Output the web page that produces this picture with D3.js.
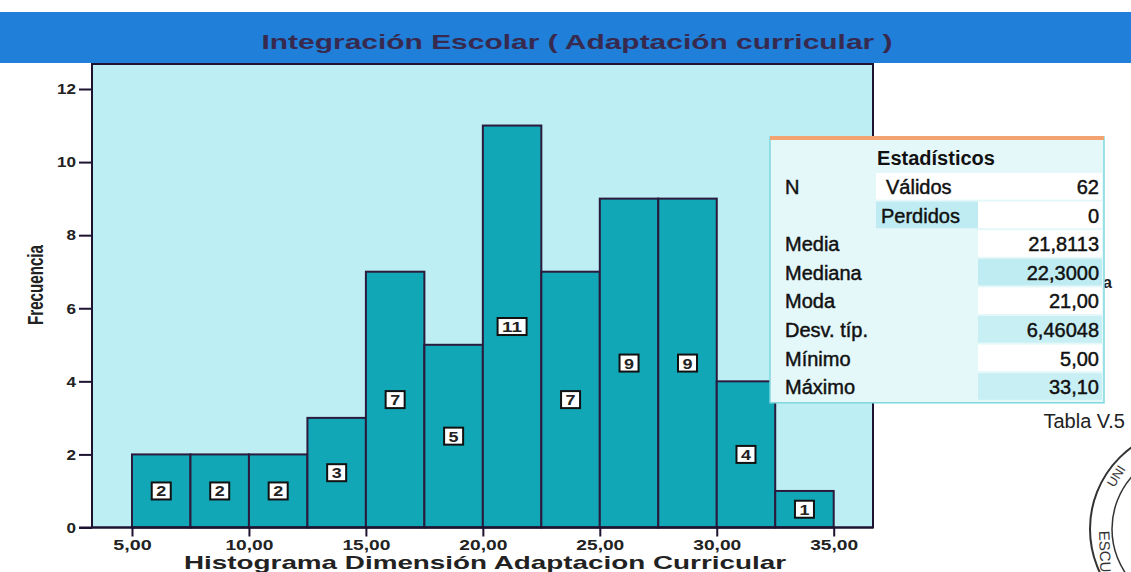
<!DOCTYPE html>
<html lang="es">
<head>
<meta charset="UTF-8">
<title>Integración Escolar</title>
<script src="https://cdn.jsdelivr.net/npm/d3@7/dist/d3.min.js"></script>
<style>
  body { margin: 0; background: #fff; }
  text { font-family: "Liberation Sans", Arial, sans-serif; }
</style>
</head>
<body>
<svg width="1131" height="572"></svg>
<script>
// histogram bins (lower edge) and counts
const binStart = [5, 7.5, 10, 12.5, 15, 17.5, 20, 22.5, 25, 27.5, 30, 32.5];
const binWidth = 2.5;
const counts = [2, 2, 2, 3, 7, 5, 11, 7, 9, 9, 4, 1];
const xTicks = [5, 10, 15, 20, 25, 30, 35];
const yTicks = [0, 2, 4, 6, 8, 10, 12];

// statistics table
const statLabels = ["N", "", "Media", "Mediana", "Moda", "Desv. típ.", "Mínimo", "Máximo"];
const statSub = ["Válidos", "Perdidos", "", "", "", "", "", ""];
const statValues = ["62", "0", "21,8113", "22,3000", "21,00", "6,46048", "5,00", "33,10"];

const svg = d3.select("svg");

// title band
svg.append("rect").attr("x", 0).attr("y", 12).attr("width", 1131).attr("height", 51)
  .attr("fill", "#1f7fd9");
svg.append("text").attr("x", 577).attr("y", 49).attr("text-anchor", "middle")
  .attr("font-size", 21).attr("font-weight", "bold").attr("fill", "#382a4e")
  .attr("textLength", 631).attr("lengthAdjust", "spacingAndGlyphs")
  .text("Integración Escolar ( Adaptación curricular )");

// scales
const x = d3.scaleLinear().domain([3.29, 36.68]).range([92, 873]);
const y = d3.scaleLinear().domain([0, 12]).range([527.5, 89]);
const plotTop = 64;

// plot background
svg.append("rect").attr("x", x.range()[0]).attr("y", plotTop)
  .attr("width", x.range()[1] - x.range()[0]).attr("height", y(0) - plotTop)
  .attr("fill", "#bdeef4");

// bars
svg.append("g").selectAll("rect").data(counts).enter().append("rect")
  .attr("x", (d, i) => x(binStart[i]))
  .attr("y", d => y(d))
  .attr("width", (d, i) => x(binStart[i] + binWidth) - x(binStart[i]))
  .attr("height", d => y(0) - y(d))
  .attr("fill", "#12a7b6")
  .attr("stroke", "#2b1a3c").attr("stroke-width", 2);

// count labels
const lab = svg.append("g").selectAll("g").data(counts).enter().append("g")
  .attr("transform", (d, i) => `translate(${x(binStart[i] + binWidth / 2)},${y(d / 2)})`);
lab.append("rect")
  .attr("x", d => -(9 + 10 * String(d).length) / 2).attr("y", -8.5)
  .attr("width", d => 9 + 10 * String(d).length).attr("height", 17)
  .attr("fill", "#fff").attr("stroke", "#111").attr("stroke-width", 2);
lab.append("text").attr("y", 5.5).attr("text-anchor", "middle")
  .attr("font-size", 15).attr("font-weight", "bold").attr("fill", "#222")
  .attr("textLength", d => String(d).length * 10).attr("lengthAdjust", "spacingAndGlyphs")
  .text(d => d);

// frame
svg.append("rect").attr("x", x.range()[0]).attr("y", plotTop)
  .attr("width", x.range()[1] - x.range()[0]).attr("height", y(0) - plotTop)
  .attr("fill", "none").attr("stroke", "#1d1330").attr("stroke-width", 2);

// axes
const yAxis = svg.append("g").attr("transform", `translate(${x.range()[0]},0)`)
  .call(d3.axisLeft(y).tickValues(yTicks).tickSize(13).tickPadding(3).tickFormat(d3.format("d")));
yAxis.select(".domain").remove();
yAxis.selectAll("line").attr("stroke", "#1d1330").attr("stroke-width", 2);
yAxis.selectAll("text").attr("font-size", 15).attr("font-weight", "bold").attr("fill", "#222")
  .attr("textLength", d => String(d).length * 9.5).attr("lengthAdjust", "spacingAndGlyphs");

const fmt = d => d.toFixed(2).replace(".", ",");
const xAxis = svg.append("g").attr("transform", `translate(0,${y(0)})`)
  .call(d3.axisBottom(x).tickValues(xTicks).tickSize(9).tickPadding(4).tickFormat(fmt));
xAxis.select(".domain").attr("stroke", "#1d1330").attr("stroke-width", 2)
  .attr("d", `M${x.range()[0] - 13},0H${x.range()[1]}`);
xAxis.selectAll("line").attr("stroke", "#1d1330").attr("stroke-width", 2);
xAxis.selectAll("text").attr("font-size", 14).attr("font-weight", "bold").attr("fill", "#222")
  .attr("textLength", d => fmt(d).length * 9.6).attr("lengthAdjust", "spacingAndGlyphs");

// axis titles
svg.append("text").attr("x", 485).attr("y", 569).attr("text-anchor", "middle")
  .attr("font-size", 19).attr("font-weight", "bold").attr("fill", "#222")
  .attr("textLength", 602).attr("lengthAdjust", "spacingAndGlyphs")
  .text("Histograma Dimensión Adaptacion Curricular");
svg.append("text")
  .attr("transform", "translate(43,285) rotate(-90)").attr("text-anchor", "middle")
  .attr("font-size", 22).attr("font-weight", "bold").attr("fill", "#222")
  .attr("textLength", 80).attr("lengthAdjust", "spacingAndGlyphs")
  .text("Frecuencia");

// stray letter behind the table
svg.append("text").attr("x", 1103).attr("y", 288).attr("font-size", 16).attr("font-weight", "bold")
  .attr("fill", "#222").text("a");

// statistics table
const tX = 770, tW = 334, tY = 137, rowH = 28.6, headH = 36;
const c2 = 876, c3 = 978;
const tb = svg.append("g");
tb.append("rect").attr("x", tX).attr("y", tY).attr("width", tW).attr("height", headH + rowH * 8 + 1)
  .attr("fill", "#e4f7f9").attr("stroke", "#7fd8e0").attr("stroke-width", 1.5);
tb.append("rect").attr("x", tX).attr("y", tY - 1).attr("width", tW).attr("height", 4).attr("fill", "#f3a36f");
tb.append("text").attr("x", 936).attr("y", tY + 28).attr("text-anchor", "middle")
  .attr("font-size", 20).attr("font-weight", "bold").attr("fill", "#111").text("Estadísticos");

const rows = tb.selectAll("g.row").data(statValues).enter().append("g")
  .attr("transform", (d, i) => `translate(0,${tY + headH + i * rowH})`);
// cell shading
const subFill = ["#ffffff", "#bfecf2", "#e4f7f9", "#e4f7f9", "#e4f7f9", "#e4f7f9", "#e4f7f9", "#e4f7f9"];
const valFill = ["#ffffff", "#ffffff", "#ffffff", "#bfecf2", "#ffffff", "#c8eff4", "#ffffff", "#c8eff4"];
rows.append("rect").attr("x", c2).attr("y", 0).attr("width", c3 - c2).attr("height", rowH - 2)
  .attr("fill", (d, i) => subFill[i]);
rows.append("rect").attr("x", c3).attr("y", 0).attr("width", tX + tW - c3 - 2).attr("height", rowH - 2)
  .attr("fill", (d, i) => valFill[i]);
const cell = sel => sel.attr("y", 21).attr("font-size", 20).attr("fill", "#111")
  .attr("stroke", "#111").attr("stroke-width", 0.45);
rows.append("text").attr("x", 785).call(cell).text((d, i) => statLabels[i]);
rows.append("text").attr("x", (d, i) => i === 0 ? 886 : 881).call(cell).text((d, i) => statSub[i]);
rows.append("text").attr("x", 1099).attr("text-anchor", "end").call(cell).text(d => d);

svg.append("text").attr("x", 1125).attr("y", 428).attr("text-anchor", "end")
  .attr("font-size", 20).attr("fill", "#222").text("Tabla V.5");

// partial stamp at bottom-right
const stamp = svg.append("g").attr("fill", "none").attr("stroke", "#333");
stamp.append("circle").attr("cx", 1191).attr("cy", 529).attr("r", 101).attr("stroke-width", 2);
stamp.append("circle").attr("cx", 1191).attr("cy", 529).attr("r", 79).attr("stroke-width", 1.5);
svg.append("text").attr("transform", "translate(1099,531) rotate(88)")
  .attr("font-size", 15).attr("fill", "#333").text("ESCU");
svg.append("text").attr("transform", "translate(1114,488) rotate(-58)")
  .attr("font-size", 13).attr("fill", "#333").text("UNI");
</script>
</body>
</html>
